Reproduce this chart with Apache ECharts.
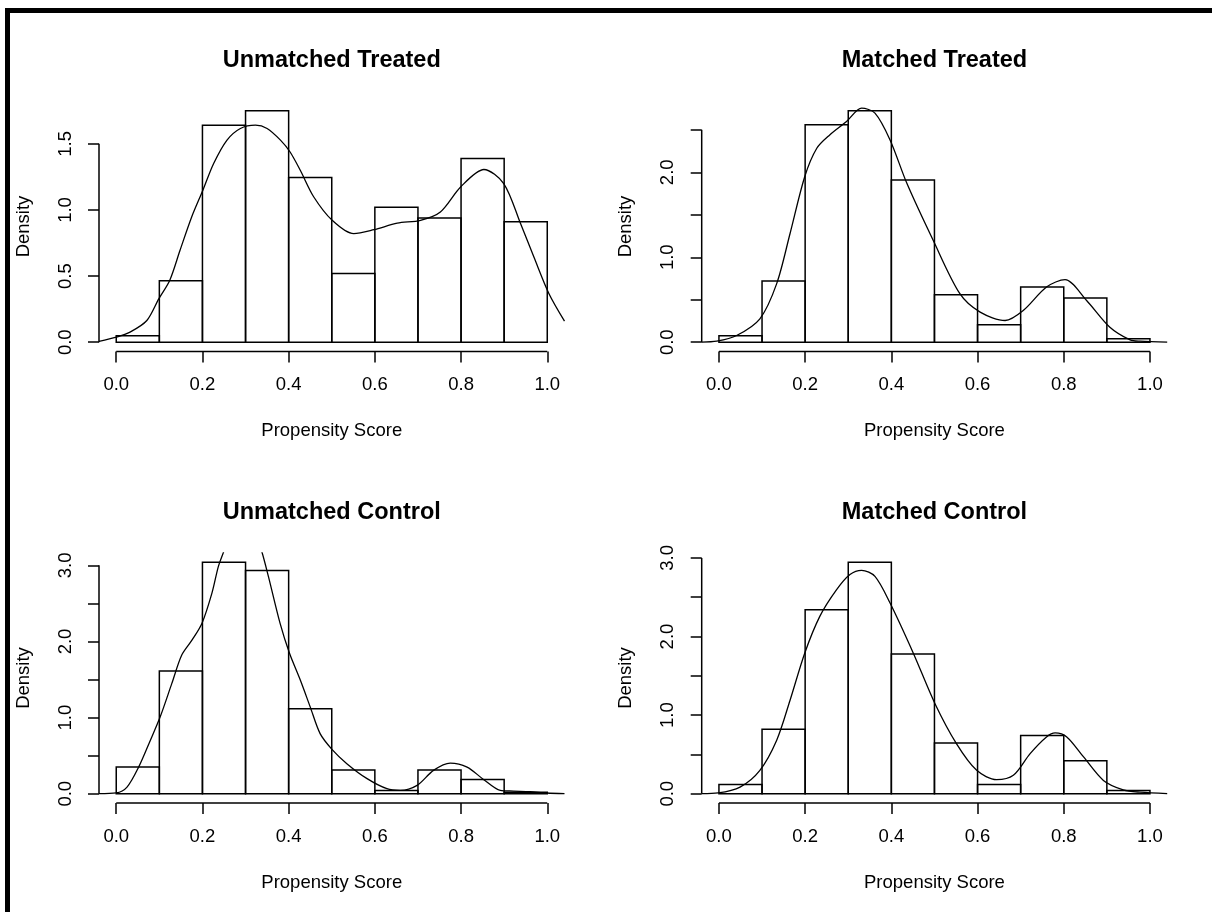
<!DOCTYPE html>
<html>
<head>
<meta charset="utf-8">
<script src="https://cdn.jsdelivr.net/npm/echarts@6/dist/echarts.min.js"></script>
<style>
  html, body { margin: 0; padding: 0; background: #fff; }
  body { position: relative; width: 1212px; height: 912px; overflow: hidden; }
  /* thick black frame from the screenshot (top + left edges only) */
  #frame { position: absolute; left: 5px; top: 8px; width: 1400px; height: 1100px;
           border-top: 5px solid #000; border-left: 5px solid #000; }
  #chart { position: absolute; left: 0; top: 0; width: 1212px; height: 912px; }
</style>
</head>
<body>
<div id="frame"></div>
<div id="chart"></div>
<script>
// ---- data ----
const panelTitles = ['Unmatched Treated', 'Matched Treated', 'Unmatched Control', 'Matched Control']
const xLabel = 'Propensity Score'
const yLabel = 'Density'

const binEdges = [0, 0.1, 0.2, 0.3, 0.4, 0.5, 0.6, 0.7, 0.8, 0.9, 1.0]
const xTicks = [0, 0.2, 0.4, 0.6, 0.8, 1.0]

// histogram densities per bin
const histUnmatchedTreated = [0.05, 0.465, 1.64, 1.75, 1.245, 0.52, 1.02, 0.94, 1.39, 0.91]
const histMatchedTreated   = [0.075, 0.72, 2.558, 2.724, 1.909, 0.56, 0.205, 0.65, 0.52, 0.04]
const histUnmatchedControl = [0.35, 1.611, 3.04, 2.933, 1.115, 0.311, 0.044, 0.311, 0.188, 0.02]
const histMatchedControl   = [0.119, 0.821, 2.341, 2.945, 1.779, 0.646, 0.119, 0.741, 0.421, 0.042]

// kernel density curves [x, density]
const densUnmatchedTreated = [[-0.04, 0.006], [0, 0.038], [0.032, 0.076], [0.071, 0.164], [0.099, 0.33], [0.124, 0.467],
  [0.148, 0.695], [0.175, 0.947], [0.201, 1.149], [0.226, 1.351], [0.257, 1.528], [0.288, 1.616], [0.323, 1.641],
  [0.35, 1.616], [0.381, 1.528], [0.403, 1.44], [0.427, 1.30], [0.458, 1.10], [0.501, 0.922], [0.551, 0.821],
  [0.598, 0.851], [0.652, 0.90], [0.706, 0.922], [0.752, 0.985], [0.799, 1.174], [0.853, 1.306], [0.899, 1.20],
  [0.938, 0.897], [0.969, 0.644], [1.004, 0.367], [1.04, 0.16]]
const densMatchedTreated = [[-0.04, 0.002], [-0.005, 0.012], [0.041, 0.079], [0.095, 0.276], [0.134, 0.69], [0.165, 1.28],
  [0.199, 1.948], [0.227, 2.283], [0.257, 2.44], [0.296, 2.597], [0.331, 2.755], [0.362, 2.696], [0.397, 2.381],
  [0.436, 1.87], [0.497, 1.20], [0.559, 0.571], [0.606, 0.354], [0.664, 0.256], [0.706, 0.374], [0.76, 0.65],
  [0.803, 0.737], [0.853, 0.492], [0.907, 0.177], [0.954, 0.028], [0.977, 0.012], [1.04, 0.001]]
const densUnmatchedControl = [[-0.04, 0.001], [0, 0.01], [0.025, 0.087], [0.052, 0.35], [0.079, 0.70], [0.102, 1.01],
  [0.129, 1.449], [0.152, 1.822], [0.176, 2.02], [0.199, 2.24], [0.222, 2.635], [0.237, 2.986], [0.249, 3.175],
  [0.27, 3.5], [0.295, 3.65], [0.318, 3.5], [0.338, 3.175], [0.353, 2.854], [0.38, 2.24], [0.402, 1.844],
  [0.427, 1.493], [0.45, 1.141], [0.473, 0.79], [0.501, 0.58], [0.535, 0.395], [0.582, 0.198], [0.628, 0.066],
  [0.659, 0.044], [0.698, 0.11], [0.736, 0.307], [0.775, 0.403], [0.814, 0.35], [0.852, 0.188], [0.891, 0.044],
  [0.922, 0.035], [0.96, 0.026], [0.999, 0.01], [1.04, 0.001]]
const densMatchedControl = [[-0.04, 0.001], [-0.002, 0.01], [0.049, 0.085], [0.095, 0.298], [0.134, 0.681], [0.165, 1.19],
  [0.199, 1.788], [0.234, 2.256], [0.273, 2.596], [0.304, 2.788], [0.331, 2.843], [0.362, 2.766], [0.397, 2.426],
  [0.451, 1.788], [0.501, 1.149], [0.551, 0.638], [0.598, 0.298], [0.644, 0.179], [0.683, 0.234], [0.722, 0.511],
  [0.76, 0.723], [0.78, 0.774], [0.807, 0.723], [0.846, 0.468], [0.892, 0.17], [0.938, 0.05], [0.977, 0.02], [1.04, 0.001]]

// y ticks / labelled ticks per panel (R drops overlapping labels)
const yTicksUT = [0, 0.5, 1.0, 1.5],                 yLabelsUT = [0, 0.5, 1.0, 1.5]
const yTicksMT = [0, 0.5, 1.0, 1.5, 2.0, 2.5],       yLabelsMT = [0, 1.0, 2.0]
const yTicksUC = [0, 0.5, 1.0, 1.5, 2.0, 2.5, 3.0],  yLabelsUC = [0, 1.0, 2.0, 3.0]
const yTicksMC = [0, 0.5, 1.0, 1.5, 2.0, 2.5, 3.0],  yLabelsMC = [0, 1.0, 2.0, 3.0]

// ---- layout ----
const FONT = "'Liberation Sans', Arial, sans-serif"
const colLeft = [99, 701.7]
const rowTop = [101.5, 553]
const plotW = 465.5
const plotH = 250
const xMin = -0.04, xMax = 1.04   // R pads xlim by 4%

const panels = [
  { hist: histUnmatchedTreated, dens: densUnmatchedTreated, yt: yTicksUT, yl: yLabelsUT },
  { hist: histMatchedTreated,   dens: densMatchedTreated,   yt: yTicksMT, yl: yLabelsMT },
  { hist: histUnmatchedControl, dens: densUnmatchedControl, yt: yTicksUC, yl: yLabelsUC },
  { hist: histMatchedControl,   dens: densMatchedControl,   yt: yTicksMC, yl: yLabelsMC }
]

const fmt = (v) => Number(v).toFixed(1)

function barRender(params, api) {
  const p0 = api.coord([api.value(0), 0])
  const p1 = api.coord([api.value(1), api.value(2)])
  return {
    type: 'rect',
    shape: { x: p0[0], y: p1[1], width: p1[0] - p0[0], height: p0[1] - p1[1] },
    style: { fill: 'transparent', stroke: '#000', lineWidth: 1.5 }
  }
}

// R draws the axis line only across the tick range
function axisRender(yt, yMin) {
  return function (params, api) {
    const a = api.coord([xTicks[0], yMin])
    const b = api.coord([xTicks[xTicks.length - 1], yMin])
    const c = api.coord([xMin, yt[0]])
    const d = api.coord([xMin, yt[yt.length - 1]])
    const st = { stroke: '#000', lineWidth: 1.5 }
    return {
      type: 'group',
      children: [
        { type: 'line', shape: { x1: a[0], y1: a[1], x2: b[0], y2: b[1] }, style: st },
        { type: 'line', shape: { x1: c[0], y1: c[1], x2: d[0], y2: d[1] }, style: st }
      ]
    }
  }
}

const grid = [], xAxis = [], yAxis = [], series = [], graphic = []

panels.forEach((p, i) => {
  const left = colLeft[i % 2]
  const top = rowTop[Math.floor(i / 2)]
  const ylim = Math.max(...p.hist)
  const yMin = -0.04 * ylim, yMax = 1.04 * ylim

  grid.push({ left, top, width: plotW, height: plotH, outerBoundsMode: 'none', containLabel: false })

  xAxis.push({
    gridIndex: i, type: 'value', min: xMin, max: xMax,
    axisLine: { show: false, onZero: false },
    splitLine: { show: false },
    axisTick: { show: true, inside: false, customValues: xTicks, length: 11, lineStyle: { color: '#000', width: 1.5 } },
    axisLabel: { customValues: xTicks, formatter: fmt, color: '#000', fontFamily: FONT, fontSize: 18.5, margin: 24 },
    name: xLabel, nameLocation: 'middle', nameGap: 70, nameMoveOverlap: false,
    nameTextStyle: { color: '#000', fontFamily: FONT, fontSize: 18.5 }
  })

  yAxis.push({
    gridIndex: i, type: 'value', min: yMin, max: yMax,
    axisLine: { show: false, onZero: false },
    splitLine: { show: false },
    axisTick: { show: true, inside: false, customValues: p.yt, length: 11, lineStyle: { color: '#000', width: 1.5 } },
    axisLabel: { customValues: p.yl, formatter: fmt, rotate: 90, color: '#000', fontFamily: FONT, fontSize: 18.5, margin: 24 },
    name: yLabel, nameLocation: 'middle', nameGap: 66, nameMoveOverlap: false,
    nameTextStyle: { color: '#000', fontFamily: FONT, fontSize: 18.5 }
  })

  series.push({
    type: 'custom', xAxisIndex: i, yAxisIndex: i, silent: true, clip: false,
    renderItem: barRender,
    encode: { x: [0, 1], y: 2 },
    data: p.hist.map((h, k) => [binEdges[k], binEdges[k + 1], h])
  })

  series.push({
    type: 'custom', xAxisIndex: i, yAxisIndex: i, silent: true, clip: false,
    renderItem: axisRender(p.yt, yMin),
    data: [[0, 0]]
  })

  series.push({
    type: 'line', xAxisIndex: i, yAxisIndex: i, silent: true,
    data: p.dens, showSymbol: false, smooth: 0.3, clip: true,
    lineStyle: { color: '#000', width: 1.3 }
  })

  graphic.push({
    type: 'text', x: left + plotW / 2, y: top - 40.5,
    style: {
      text: panelTitles[i], fill: '#000', font: "bold 23.5px " + FONT,
      align: 'center', verticalAlign: 'middle', textAlign: 'center', textVerticalAlign: 'middle'
    }
  })
})

const chart = echarts.init(document.getElementById('chart'), null, { renderer: 'canvas' })
chart.setOption({
  animation: false,
  backgroundColor: 'transparent',
  grid, xAxis, yAxis, series, graphic
})
</script>
</body>
</html>
